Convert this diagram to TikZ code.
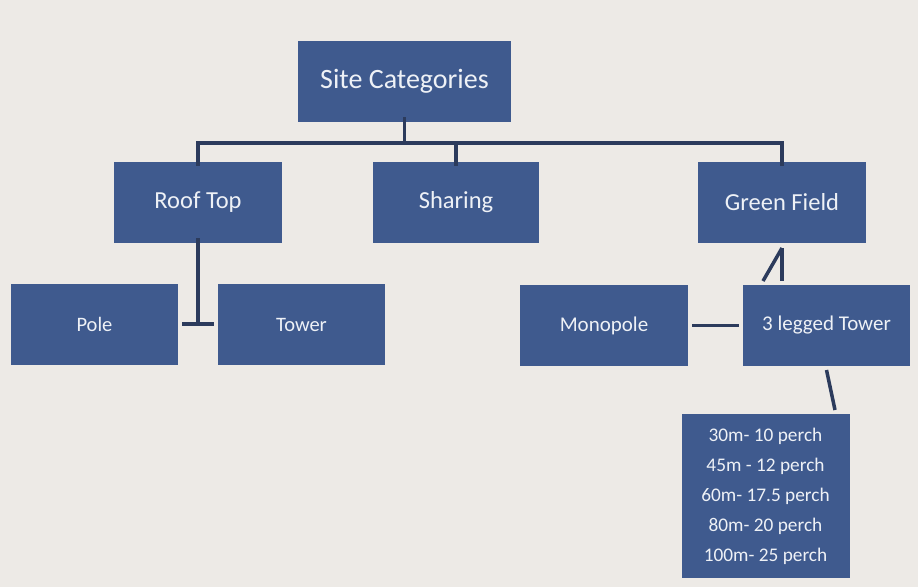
\documentclass[tikz,border=0pt]{standalone}
\usepackage{fontspec}
\setmainfont{Carlito}
\definecolor{bg}{HTML}{EDEAE6}
\definecolor{boxfill}{HTML}{3F5A8E}
\definecolor{linec}{HTML}{2C3B5C}
\definecolor{txt}{HTML}{EEF1F6}
\tikzset{
  box/.style={fill=boxfill, draw=none, text=txt, inner sep=0pt, anchor=center},
  conn/.style={draw=linec, line width=3.5pt},
}
\begin{document}
\begin{tikzpicture}[x=1pt,y=-1pt]
\fill[bg] (0,0) rectangle (918,587);
\useasboundingbox (0,0) rectangle (918,587);
\node[box, minimum width=213pt, minimum height=81pt, font=\fontsize{28}{32}\selectfont] (site) at (404.5,81.5) {Site Categories};
\node[box, minimum width=168pt, minimum height=81pt, font=\fontsize{24.5}{28}\selectfont] (roof) at (198,202.5) {Roof Top};
\node[box, minimum width=166pt, minimum height=81pt, font=\fontsize{24.5}{28}\selectfont] (share) at (456,202.5) {Sharing};
\node[box, minimum width=168pt, minimum height=81pt, font=\fontsize{24.5}{28}\selectfont] (green) at (782,202.5) {Green Field};
\node[box, minimum width=167pt, minimum height=81pt, font=\fontsize{20.5}{24}\selectfont] (pole) at (94.5,324.5) {Pole};
\node[box, minimum width=167pt, minimum height=81pt, font=\fontsize{20.5}{24}\selectfont] (tower) at (301.5,324.5) {Tower};
\node[box, minimum width=168pt, minimum height=81pt, font=\fontsize{21}{25}\selectfont] (mono) at (604,325.5) {Monopole};
\node[box, minimum width=167pt, minimum height=81pt, font=\fontsize{21}{25}\selectfont] (three) at (826.5,325.5) {3 legged Tower};
\node[box, minimum width=168pt, minimum height=164pt, align=center, font=\fontsize{19.3}{30}\selectfont] (perch) at (765.5,496) {30m- 10 perch\\45m - 12 perch\\60m- 17.5 perch\\80m- 20 perch\\100m- 25 perch};
% top tree
\coordinate (bar) at (404.5,143);
\draw[conn] ([yshift=5pt]site.south) -- (bar);
\draw[conn] ([yshift=-4pt]roof.north) |- (bar) -| ([yshift=-4pt]green.north);
\draw[conn] ([yshift=-4pt]share.north) -- (share.north |- bar);
% roof top to pole/tower
\coordinate (rj) at (198,324);
\draw[conn] ([yshift=5pt]roof.south) -- (rj);
\draw[conn] ([xshift=4pt]pole.east |- rj) -- ([xshift=-4pt]tower.west |- rj);
% green field to 3 legged
\coordinate (gtop) at (782,248);
\draw[conn] (gtop) -- (782,281);
\draw[conn] (gtop) -- (763,281);
% monopole to 3 legged
\draw[conn] ([xshift=4pt]mono.east) -- ([xshift=-4pt]three.west);
% 3 legged to perch
\draw[conn] (826.5,370) -- (835,410);
\end{tikzpicture}
\end{document}
